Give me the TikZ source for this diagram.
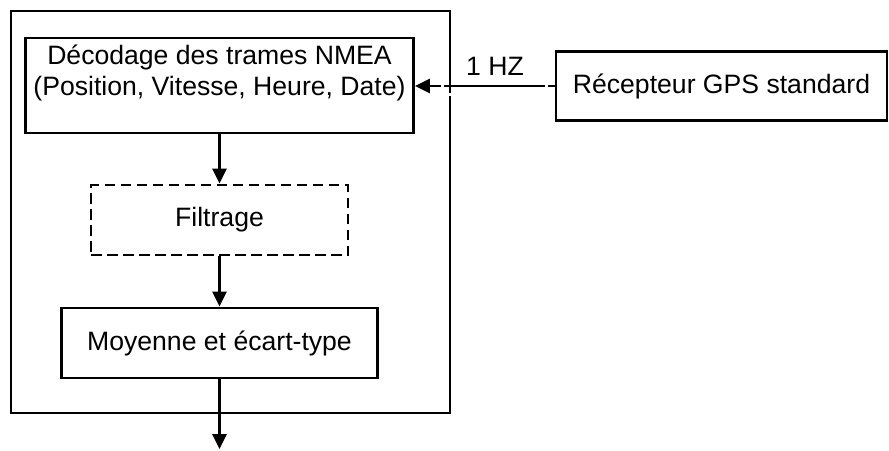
\documentclass[tikz,border=0pt]{standalone}
\usepackage{fontspec}
\setmainfont{Liberation Sans}
\usetikzlibrary{arrows.meta,calc}
\begin{document}
\begin{tikzpicture}[x=1pt,y=-1pt,
  every node/.style={font=\fontsize{26.6}{31}\selectfont},
  box/.style={draw,line width=2.9pt,rectangle,inner sep=0pt},
  dbox/.style={box,dash pattern=on 10.5pt off 5.5pt},
  arr/.style={line width=2.9pt,-{Triangle[width=14pt,length=15pt]}},
  txt/.style={inner sep=0pt,align=center}]
\useasboundingbox (0,0) rectangle (889,450);
\node[box,minimum width=439pt,minimum height=402pt] (outer) at (230.5,212) {};
\draw[white,line width=4pt] (450.5,92.5) -- (450.5,96);
\node[box,minimum width=388pt,minimum height=95pt] (dec) at (219.5,85.5) {};
\node[txt,anchor=base] (dec1) at (219.5,64) {Décodage des trames NMEA};
\node[txt,anchor=base] (dec2) at (219.5,95) {(Position, Vitesse, Heure, Date)};
\node[dbox,minimum width=257pt,minimum height=70pt] (fil) at (219.5,220) {Filtrage};
\node[box,minimum width=331pt,minimum height=69pt] (rec) at (721.5,86) {Récepteur GPS standard};
\node[box,minimum width=316pt,minimum height=70pt] (moy) at (219.5,343) {Moyenne et écart-type};
\node[txt,anchor=base] (hz) at (495,75) {1 HZ};
\coordinate (out) at (219.5,449);
\draw[arr] (dec.south) -- (fil.north);
\draw[arr] (fil.south) -- (moy.north);
\draw[arr] (moy.south) -- (out);
\draw[arr,dash pattern=on 7pt off 3pt on 101pt off 3pt on 60pt] (rec.west) -- (dec.east |- rec.west);
\end{tikzpicture}
\end{document}
